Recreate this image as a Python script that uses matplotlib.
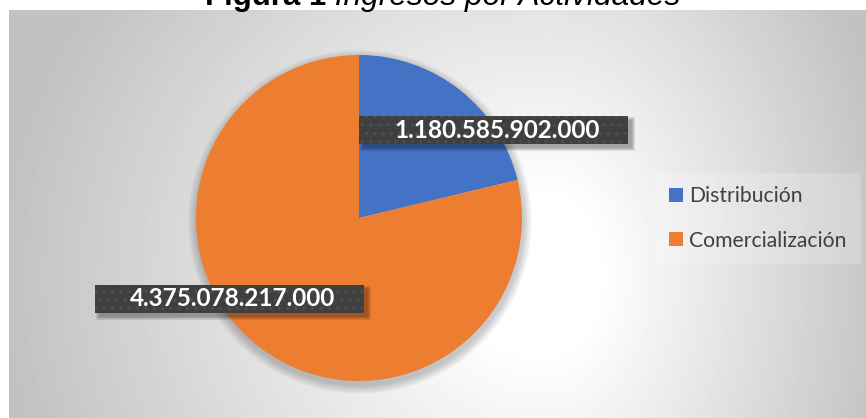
import matplotlib
matplotlib.use('Agg')
import matplotlib.pyplot as plt
import numpy as np
from matplotlib.patches import Rectangle, Circle

# Data
labels = ['Distribución', 'Comercialización']
values = [1180585902000, 4375078217000]
value_text = ['1.180.585.902.000', '4.375.078.217.000']
colors = ['#4472C4', '#ED7D31']

W, H = 866, 418
fig = plt.figure(figsize=(W / 100, H / 100), dpi=100)
ax = fig.add_axes([0, 0, 1, 1])

# chart area background: soft radial gradient
yy, xx = np.mgrid[0:408, 9:866].astype(float)
cx, cy = 545.0, 265.0
dx = np.where(xx < cx, (xx - cx) / 540.0, (xx - cx) / 350.0)
dy = (yy - cy) / 500.0
r = np.sqrt(dx ** 2 + dy ** 2)
v = 1 - 0.24 * np.clip((r - 0.15) / 0.85, 0, 1)
ax.imshow(v, cmap='gray', vmin=0, vmax=1, extent=(9, 866, 0, 408),
          origin='upper', interpolation='bilinear', zorder=0, aspect='auto')

# pie
pc = (359, H - 218)
pr = 163
for k in range(1, 10):
    ax.add_patch(Circle((pc[0] + 1, pc[1] - 4), pr + k, color='black',
                        alpha=0.022, lw=0, zorder=1))
wedges, _ = ax.pie(values, colors=colors, startangle=90, counterclock=False,
                   center=pc, radius=pr, wedgeprops=dict(linewidth=0, zorder=2))

ax.set_xlim(0, W)
ax.set_ylim(0, H)
ax.set_aspect('auto')
ax.axis('off')

# data labels
plt.rcParams['hatch.linewidth'] = 1.2
label_pos = [(497, H - 130), (233, H - 299)]
renderer = fig.canvas.get_renderer()
for (x, y), s in zip(label_pos, value_text):
    t = ax.text(x, y, s, ha='center', va='center', color='white',
                fontsize=17.5, fontweight='bold', family='Lato', zorder=6)
    bb = t.get_window_extent(renderer)
    x0, x1 = bb.x0 - 35, bb.x1 + 28
    y0, y1 = y - 14, y + 14
    for k in range(4):
        ax.add_patch(Rectangle((x0 + 4 - k, y0 - 4 - k), x1 - x0 + 2 * k, y1 - y0 + 2 * k,
                               facecolor='black', alpha=0.09, lw=0, zorder=4))
    ax.add_patch(Rectangle((x0, y0), x1 - x0, y1 - y0, facecolor='#3f3f3f',
                           edgecolor='#4d4d4d', hatch='..', lw=0, zorder=5))

# legend
leg = ax.legend(wedges, labels, loc='center left',
                bbox_to_anchor=(655 / W, 1 - 218.5 / H), borderaxespad=0,
                frameon=True, fancybox=False,
                prop=dict(family='Lato', size=15.2),
                handlelength=0.68, handleheight=0.68, handletextpad=0.3,
                labelspacing=1.15, borderpad=0.65)
leg.get_frame().set_facecolor('white')
leg.get_frame().set_alpha(0.2)
leg.get_frame().set_edgecolor('none')
for txt in leg.get_texts():
    txt.set_color('#404040')

# title (cut off at the top edge, as in the original)
tb = fig.text(205 / W, 1 - 5 / H, 'Figura 1', fontsize=22.5, fontweight='bold',
              family='Liberation Sans', va='baseline', ha='left')
bb = tb.get_window_extent(renderer)
fig.text(bb.x1 / W, 1 - 5 / H, ' Ingresos por Actividades', fontsize=22.8,
         style='italic', family='Liberation Sans', va='baseline', ha='left')

plt.savefig('out.png', dpi=100)
